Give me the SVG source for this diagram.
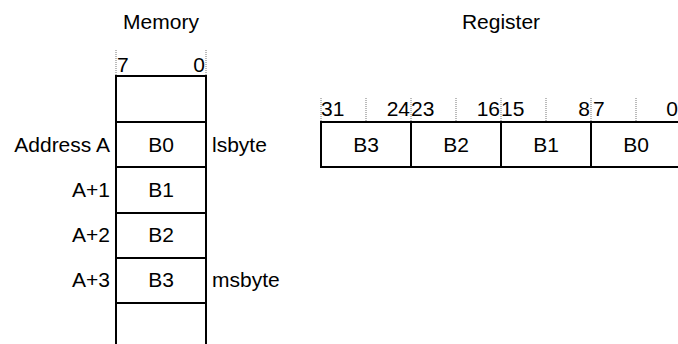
<svg xmlns="http://www.w3.org/2000/svg" width="678" height="344" viewBox="0 0 678 344">
<style>
text{font-family:"Liberation Sans",Arial,sans-serif;font-size:21px;fill:#000}
.m{text-anchor:middle}
.e{text-anchor:end}
.cell{fill:#fff;stroke:#000;stroke-width:2}
.dot{stroke:#777;stroke-width:1;stroke-dasharray:1 1;fill:none}
</style>
<rect width="678" height="344" fill="#fff"/>
<g id="titles">
<text class="m" x="161" y="29">Memory</text>
<text class="m" x="501" y="29">Register</text>
</g>
<g id="memory">
<line class="dot" x1="116" y1="50" x2="116" y2="76"/>
<line class="dot" x1="206" y1="50" x2="206" y2="76"/>
<text x="117" y="72">7</text>
<text class="e" x="205" y="72">0</text>
<rect class="cell" x="116" y="76" width="90" height="46"/>
<rect class="cell" x="116" y="122" width="90" height="45"/>
<rect class="cell" x="116" y="167" width="90" height="46"/>
<rect class="cell" x="116" y="213" width="90" height="45"/>
<rect class="cell" x="116" y="258" width="90" height="45"/>
<rect class="cell" x="116" y="303" width="90" height="50"/>
<text class="m" x="161" y="152">B0</text>
<text class="m" x="161" y="197">B1</text>
<text class="m" x="161" y="242">B2</text>
<text class="m" x="161" y="287">B3</text>
<text class="e" x="110" y="152">Address A</text>
<text class="e" x="110" y="197">A+1</text>
<text class="e" x="110" y="242">A+2</text>
<text class="e" x="110" y="287">A+3</text>
<text x="212" y="152">lsbyte</text>
<text x="212" y="287">msbyte</text>
</g>
<g id="register">
<line class="dot" x1="321" y1="98" x2="321" y2="122"/>
<line class="dot" x1="366" y1="98" x2="366" y2="122"/>
<line class="dot" x1="411" y1="98" x2="411" y2="122"/>
<line class="dot" x1="456" y1="98" x2="456" y2="122"/>
<line class="dot" x1="501" y1="98" x2="501" y2="122"/>
<line class="dot" x1="546" y1="98" x2="546" y2="122"/>
<line class="dot" x1="591" y1="98" x2="591" y2="122"/>
<line class="dot" x1="636" y1="98" x2="636" y2="122"/>
<line class="dot" x1="681" y1="98" x2="681" y2="122"/>
<text x="321" y="116">31</text>
<text class="e" x="410" y="116">24</text>
<text x="411" y="116">23</text>
<text class="e" x="500" y="116">16</text>
<text x="501" y="116">15</text>
<text class="e" x="590" y="116">8</text>
<text x="593" y="116">7</text>
<text class="e" x="678" y="116">0</text>
<rect class="cell" x="321" y="122" width="90" height="45"/>
<rect class="cell" x="411" y="122" width="90" height="45"/>
<rect class="cell" x="501" y="122" width="90" height="45"/>
<rect class="cell" x="591" y="122" width="90" height="45"/>
<text class="m" x="366" y="152">B3</text>
<text class="m" x="456" y="152">B2</text>
<text class="m" x="546" y="152">B1</text>
<text class="m" x="636" y="152">B0</text>
</g>
</svg>
